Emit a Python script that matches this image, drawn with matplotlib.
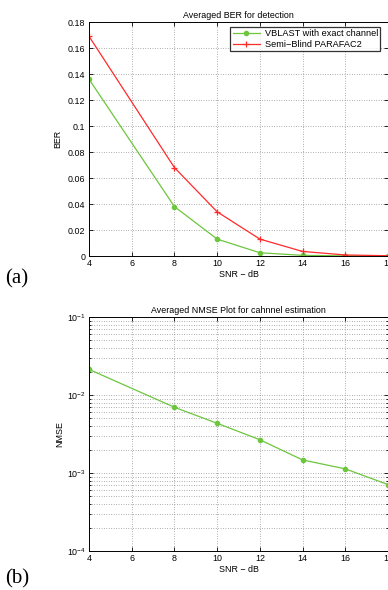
import matplotlib
matplotlib.use("Agg")
import matplotlib.pyplot as plt
from matplotlib.ticker import LogLocator, NullFormatter

snr = [4, 8, 10, 12, 14, 16, 18]
ber_vblast = [0.136, 0.038, 0.013, 0.0025, 0.0005, 0.0001, 0.0]
ber_parafac = [0.169, 0.068, 0.034, 0.013, 0.0035, 0.0008, 0.0002]
nmse = [0.0213, 0.00696, 0.00434, 0.00267, 0.00147, 0.00113, 0.00071]
xticks = [4, 6, 8, 10, 12, 14, 16, 18]
yticks_ber = [0, 0.02, 0.04, 0.06, 0.08, 0.1, 0.12, 0.14, 0.16, 0.18]
yticklabels_ber = ["0", "0.02", "0.04", "0.06", "0.08", "0.1", "0.12", "0.14", "0.16", "0.18"]

green = "#6cc63e"
red = "#ff2a2a"
plt.rcParams['font.family'] = ['Liberation Sans', 'DejaVu Sans']
plt.rcParams['mathtext.fontset'] = 'custom'
plt.rcParams['mathtext.rm'] = 'Liberation Sans'
fs = 6.4

W, H = 388, 590
fig = plt.figure(figsize=(W/100, H/100), dpi=100)

def style(ax):
    ax.tick_params(direction='in', which='both', labelsize=fs, top=True, right=True,
                   length=3, width=0.6, pad=2.5)
    ax.tick_params(which='minor', length=1.5)
    for s in ax.spines.values():
        s.set_linewidth(0.7)

# (a)
ax1 = fig.add_axes([89/W, 1-256/H, 299/W, (256-22)/H])
ax1.plot(snr, ber_vblast, color=green, marker='o', ms=3, lw=0.9, label='VBLAST with exact channel')
ax1.plot(snr, ber_parafac, color=red, marker='+', ms=4, mew=0.9, lw=0.9, label='Semi\u2212Blind PARAFAC2')
ax1.set_xlim(4, 18)
ax1.set_ylim(0, 0.18)
ax1.set_xticks(xticks)
ax1.set_yticks(yticks_ber)
ax1.set_yticklabels(yticklabels_ber)
ax1.grid(True, linestyle=(0, (1, 2.5)), color='#666666', lw=0.5)
style(ax1)
ax1.set_title('Averaged BER for detection', fontsize=fs, pad=3)
ax1.set_xlabel('SNR \u2212 dB', fontsize=fs, labelpad=1)
ax1.set_ylabel('BER', fontsize=fs, labelpad=4)
leg = ax1.legend(loc='upper right', fontsize=6.6, frameon=True, fancybox=False,
                 edgecolor='black', borderpad=0.25, labelspacing=0.15, handlelength=3.0,
                 handletextpad=0.5, bbox_to_anchor=(0.99, 0.998))
leg.get_frame().set_linewidth(0.9)

# (b)
ax2 = fig.add_axes([89/W, 1-551/H, 299/W, (551-317)/H])
ax2.semilogy(snr, nmse, color=green, marker='o', ms=3, lw=0.9)
ax2.set_xlim(4, 18)
ax2.set_ylim(1e-4, 1e-1)
ax2.set_xticks(xticks)
ax2.yaxis.set_major_locator(LogLocator(base=10, numticks=10))
ax2.yaxis.set_minor_locator(LogLocator(base=10, subs=range(2, 10), numticks=20))
ax2.yaxis.set_minor_formatter(NullFormatter())
ax2.grid(True, which='both', linestyle=(0, (1, 2.5)), color='#666666', lw=0.5)
style(ax2)
ax2.set_title('Averaged NMSE Plot for cahnnel estimation', fontsize=fs, pad=3)
ax2.set_xlabel('SNR \u2212 dB', fontsize=fs, labelpad=1)
ax2.set_ylabel('NMSE', fontsize=fs, labelpad=2)

fig.text(5/W, 1-283/H, '(a)', fontsize=15, family='Liberation Serif', va='baseline')
fig.text(5/W, 1-583/H, '(b)', fontsize=15, family='Liberation Serif', va='baseline')

fig.savefig('out.png', dpi=100)
